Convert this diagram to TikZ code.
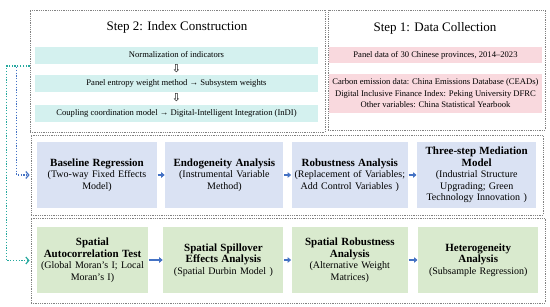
\documentclass[tikz,border=0pt]{standalone}
\usepackage{fontspec}
\setmainfont{Liberation Serif}
\newfontfamily\symfont{DejaVu Sans}
\usepackage{tikz}
\usetikzlibrary{arrows.meta,positioning,calc}
\definecolor{framegray}{RGB}{130,130,130}
\definecolor{barcyan}{RGB}{212,241,239}
\definecolor{barpink}{RGB}{249,217,222}
\definecolor{boxblue}{RGB}{218,226,243}
\definecolor{boxgreen}{RGB}{217,234,206}
\definecolor{flowblue}{RGB}{68,114,196}
\definecolor{flowteal}{RGB}{38,168,158}
\newcommand\boxhead[1]{{\fontsize{11}{11.5}\selectfont\bfseries #1}}

\begin{document}
\begin{tikzpicture}[x=1pt, y=-1pt,
  frame/.style={draw=framegray, densely dotted, line width=0.8pt, inner sep=0pt},
  title/.style={font=\fontsize{13}{15}\selectfont, inner sep=0pt},
  bar/.style={minimum height=17pt, inner sep=0pt, align=center, font=\fontsize{8.6}{11.5}\selectfont},
  downsign/.style={font=\symfont\fontsize{11}{12}\selectfont, inner sep=0pt},
  stepbox/.style={minimum height=66pt, inner sep=2pt, align=center, font=\fontsize{10}{11.5}\selectfont},
  arrow/.style={-{Triangle[length=3.5pt,width=5.5pt]}, line width=2pt, flowblue, shorten <=0.5pt, shorten >=0.5pt},
  link/.style={dash pattern=on 1.2pt off 1.6pt, line width=1.1pt, shorten >=1pt, -{Straight Barb[length=3pt,width=7pt,line width=1.2pt]}}
]
\useasboundingbox (0,0) rectangle (550,306);

% frames
\node[frame, minimum width=295pt, minimum height=122pt] (idxframe) at (177.5,71) {};
\node[frame, minimum width=217pt, minimum height=120pt] (dataframe) at (436.5,70) {};
\node[frame, minimum width=512pt, minimum height=80pt] (midframe) at (287,175) {};
\node[frame, minimum width=514pt, minimum height=85pt] (botframe) at (288,260.5) {};

% step 2
\node[title] (idxtitle) at (177,27) {Step 2: Index Construction};
\node[bar, fill=barcyan, minimum width=283pt] (norm) at (176.5,55) {Normalization of indicators};
\node[bar, fill=barcyan, minimum width=283pt] (entropy) at (176.5,83) {Panel entropy weight method → Subsystem weights};
\node[bar, fill=barcyan, minimum width=283pt] (couple) at (176.5,113) {Coupling coordination model → Digital-Intelligent Integration (InDI)};
\node[downsign] (down1) at ($(norm)!0.5!(entropy)$) {⇩};
\node[downsign] (down2) at ($(entropy)!0.5!(couple)$) {⇩};

% step 1
\node[title] (datatitle) at (435,28) {Step 1: Data Collection};
\node[bar, fill=barpink, minimum width=213pt, minimum height=16pt] (panel) at (435.5,55) {Panel data of 30 Chinese provinces, 2014–2023};
\node[bar, fill=barpink, minimum width=213pt, minimum height=39pt] (sources) at (435.5,93.5) {Carbon emission data: China Emissions Database (CEADs)\\Digital Inclusive Finance Index: Peking University DFRC\\Other variables: China Statistical Yearbook};

% benchmark row
\node[stepbox, fill=boxblue, text width=116pt] (base) at (97,175) {\boxhead{Baseline Regression}\\(Two-way Fixed Effects\\Model)};
\node[stepbox, fill=boxblue, text width=114pt, right=8pt of base] (endo) {\boxhead{Endogeneity Analysis}\\(Instrumental Variable\\Method)};
\node[stepbox, fill=boxblue, text width=112pt, right=8pt of endo] (robust) {\boxhead{Robustness Analysis}\\(Replacement of Variables;\\Add Control Variables )};
\node[stepbox, fill=boxblue, text width=115pt, right=9pt of robust] (mediate) {\boxhead{Three-step Mediation\\Model}\\(Industrial Structure\\Upgrading; Green\\Technology Innovation )};

% spatial row
\node[stepbox, fill=boxgreen, text width=107pt] (autocorr) at (92.5,260) {\boxhead{Spatial\\Autocorrelation Test}\\(Global Moran's I; Local\\Moran's I)};
\node[stepbox, fill=boxgreen, text width=116pt, right=15pt of autocorr] (spill) {\boxhead{Spatial Spillover\\Effects Analysis}\\(Spatial Durbin Model )};
\node[stepbox, fill=boxgreen, text width=112pt, right=8pt of spill] (sprobust) {\boxhead{Spatial Robustness\\Analysis}\\(Alternative Weight\\Matrices)};
\node[stepbox, fill=boxgreen, text width=116pt, right=10pt of sprobust] (hetero) {\boxhead{Heterogeneity\\Analysis}\\(Subsample Regression)};

\draw[arrow] (base) -- (endo);
\draw[arrow] (endo) -- (robust);
\draw[arrow] (robust) -- (mediate);
\draw[arrow] (autocorr) -- (spill);
\draw[arrow] (spill) -- (sprobust);
\draw[arrow] (sprobust) -- (hetero);

% links from index construction
\coordinate (tap) at ([yshift=5pt]idxframe.west);
\draw[link, flowblue] (tap) -| ([xshift=-14pt]midframe.west) -- (midframe.west);
\draw[link, flowteal] (tap) -| ([xshift=-24pt]botframe.west) -- (botframe.west);
\end{tikzpicture}
\end{document}
